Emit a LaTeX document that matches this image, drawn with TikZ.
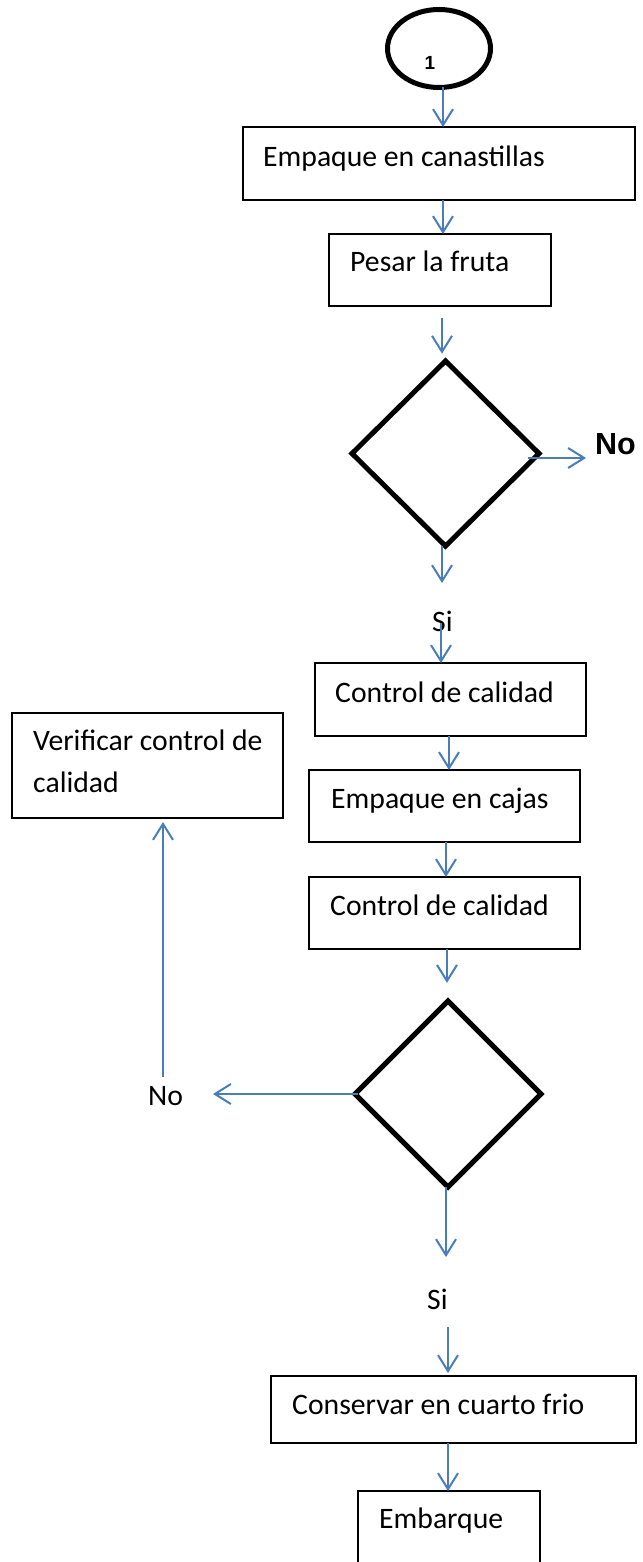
\documentclass[tikz,border=0pt]{standalone}
\usepackage{fontspec}
\setmainfont{Carlito}
\newfontfamily\arialfont{Liberation Sans}
\usetikzlibrary{arrows.meta,shapes.geometric}
\definecolor{flowblue}{RGB}{74,126,187}

\begin{document}
\begin{tikzpicture}[x=1pt,y=-1pt,
  flow/.style={draw=flowblue, line width=2pt, -{Straight Barb[length=16pt,width=20pt]}},
  stepbox/.style={draw=black, line width=1.5pt, rectangle, inner sep=0pt, outer sep=0pt},
  decision/.style={draw=black, line width=5pt, diamond, inner sep=0pt, outer sep=0pt},
  connector/.style={draw=black, line width=5pt, ellipse, inner sep=0pt, outer sep=0pt},
  txt/.style={anchor=base west, inner sep=0pt, font=\fontsize{29.7}{41}\selectfont},
  boldlbl/.style={anchor=base west, inner sep=0pt, font=\arialfont\bfseries\fontsize{30.5}{35}\selectfont},
]
\useasboundingbox (0,0) rectangle (642,1562);
\fill[white] (0,0) rectangle (642,1562);
\clip (0,0) rectangle (642,1562);

% off-page connector
\node[connector, minimum width=103, minimum height=78] (c) at (439,48.5) {};
\node[anchor=base, inner sep=0pt, font=\arialfont\bfseries\fontsize{19}{20}\selectfont] (n1) at (430,70) {1};

% process boxes
\node[stepbox, minimum width=392, minimum height=73] (b1) at (439,163.5) {};
\node[stepbox, minimum width=222, minimum height=72] (b2) at (440,270) {};
\node[stepbox, minimum width=271, minimum height=73] (b3) at (450.5,699.5) {};
\node[stepbox, minimum width=271, minimum height=72] (b4) at (444.5,806) {};
\node[stepbox, minimum width=271, minimum height=72] (b5) at (444.5,913) {};
\node[stepbox, minimum width=271, minimum height=105] (vb) at (147.5,765.5) {};
\node[stepbox, minimum width=365, minimum height=67] (b6) at (453.5,1409.5) {};
\node[stepbox, minimum width=182, minimum height=74] (b7) at (449,1528) {};

% decisions
\node[decision, minimum width=187, minimum height=185] (d1) at (445.5,453.5) {};
\node[decision, minimum width=186, minimum height=186] (d2) at (448,1094) {};

% box texts
\node[txt] (t1) at (263,167) {Empaque en canastillas};
\node[txt] (t2) at (350,272) {Pesar la fruta};
\node[txt] (t3) at (335,702) {Control de calidad};
\node[txt] (tv1) at (33,750) {Verificar control de};
\node[txt] (tv2) at (33,792) {calidad};
\node[txt] (t4) at (331,808) {Empaque en cajas};
\node[txt] (t5) at (330,915) {Control de calidad};
\node[txt] (t6) at (292,1414) {Conservar en cuarto frio};
\node[txt] (t7) at (379,1528) {Embarque};

% branch labels
\node[boldlbl] (no1) at (595,454) {No};
\node[txt] (si1) at (432,631) {Si};
\node[txt] (no2) at (148,1105) {No};
\node[txt] (si2) at (427,1309) {Si};

% free ends of connectors
\coordinate (e2) at (442,318);
\coordinate (noR) at (586,458);
\coordinate (e4) at (442,583);
\coordinate (e5) at (441,623);
\coordinate (noL) at (213,1094);
\coordinate (ret) at (163,1077);
\coordinate (e10) at (446,1257);
\coordinate (e11) at (448,1327);

% connectors
\draw[flow] ([xshift=4]c.south) -- ([xshift=4]b1.north);
\draw[flow] ([xshift=4]b1.south) -- ([xshift=3]b2.north);
\draw[flow] (e2) -- ([xshift=-3.5,yshift=7.3]d1.north);
\draw[flow] ([xshift=-10.8,yshift=-4.5]d1.east) -- (noR);
\draw[flow] ([xshift=-3.5]d1.south) -- (e4);
\draw[flow] (e5) -- ([xshift=-9.5]b3.north);
\draw[flow] ([xshift=-1.5]b3.south) -- ([xshift=4.5]b4.north);
\draw[flow] ([xshift=1.5]b4.south) -- ([xshift=1.5]b5.north);
\draw[flow] ([xshift=2.5]b5.south) -- ([xshift=-1,yshift=18.2]d2.north);
\draw[flow] ([xshift=3]d2.west) -- (noL);
\draw[flow] (ret) -- ([xshift=15.5,yshift=-4]vb.south);
\draw[flow] ([xshift=-2]d2.south) -- (e10);
\draw[flow] (e11) -- ([xshift=-5.5,yshift=3]b6.north);
\draw[flow] ([xshift=-5.5]b6.south) -- ([xshift=-1]b7.north);
\end{tikzpicture}
\end{document}
